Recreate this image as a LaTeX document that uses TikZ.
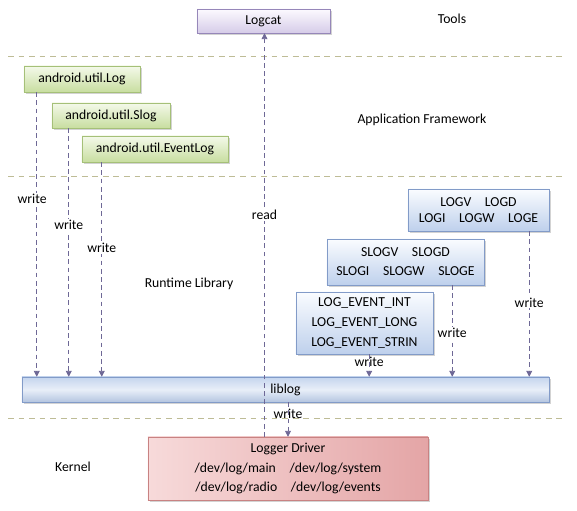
\documentclass[tikz,border=0pt]{standalone}
\usepackage{fontspec}
\setmainfont{Carlito}
\usetikzlibrary{arrows.meta,shadows}

\definecolor{sepline}{RGB}{190,188,150}
\definecolor{arrowc}{RGB}{110,104,150}
\definecolor{greentop}{RGB}{244,249,234}
\definecolor{greenbot}{RGB}{200,222,160}
\definecolor{greenline}{RGB}{165,192,120}
\definecolor{bluetop}{RGB}{250,252,255}
\definecolor{bluebot}{RGB}{190,208,236}
\definecolor{blueline}{RGB}{130,155,200}
\definecolor{purptop}{RGB}{252,250,255}
\definecolor{purpbot}{RGB}{214,204,232}
\definecolor{purpline}{RGB}{150,135,185}
\definecolor{redleft}{RGB}{247,218,218}
\definecolor{redright}{RGB}{228,165,166}
\definecolor{redline}{RGB}{200,130,130}

\tikzset{
  box/.style={rectangle, inner sep=0pt, align=center,
    font=\fontsize{11.7}{13.6}\selectfont,
    drop shadow={opacity=0.35, shadow xshift=1.5pt, shadow yshift=-1.5pt}},
  javabox/.style={box, draw=greenline, top color=greentop, bottom color=greenbot},
  cbox/.style={box, draw=blueline, top color=bluetop, bottom color=bluebot},
  toolbox/.style={box, draw=purpline, top color=purptop, bottom color=purpbot},
  drvbox/.style={box, draw=redline, left color=redleft, right color=redright},
  libbox/.style={box, draw=blueline, top color=bluebot!90!white, bottom color=bluebot!95!black,
    middle color=bluebot!35!white},
  layer/.style={font=\fontsize{11.7}{13.6}\selectfont},
  sep/.style={draw=sepline, dashed, dash pattern=on 5pt off 4pt, line width=0.6pt},
  wr/.style={draw=arrowc, dashed, dash pattern=on 4pt off 3pt, line width=0.7pt,
    -{Triangle[width=5pt,length=5pt]}},
  lbl/.style={font=\fontsize{11.7}{13.6}\selectfont, fill=white, inner sep=1pt}
}

\begin{document}
\begin{tikzpicture}[x=0.03cm, y=-0.03cm]
  \useasboundingbox (0,0) rectangle (577,511);

  \draw[sep] (8,56) -- (562,56);
  \draw[sep] (8,176) -- (562,176);
  \draw[sep] (8,418) -- (562,418);

  \node[layer] (tools) at (452,19) {Tools};
  \node[layer] (appfw) at (422,120) {Application Framework};
  \node[layer] (rtlib) at (189,284) {Runtime Library};
  \node[layer] (kernel) at (73,467) {Kernel};

  \node[toolbox, minimum width=3.99cm, minimum height=0.72cm] (logcat) at (263.5,21) {Logcat};

  \node[javabox, minimum width=3.48cm, minimum height=0.78cm] (jlog) at (82,79) {android.util.Log};
  \node[javabox, minimum width=3.54cm, minimum height=0.75cm] (jslog) at (111,115.5) {android.util.Slog};
  \node[javabox, minimum width=4.38cm, minimum height=0.78cm] (jevlog) at (155,149) {android.util.EventLog};

  \node[cbox, minimum width=4.23cm, minimum height=1.26cm] (clog) at (478.5,210)
    {LOGV\quad LOGD\\LOGI\quad LOGW\quad LOGE};
  \node[cbox, minimum width=4.71cm, minimum height=1.38cm] (cslog) at (405.5,262)
    {SLOGV\quad SLOGD\\[2.6pt]SLOGI\quad SLOGW\quad SLOGE};
  \node[cbox, minimum width=4.11cm, minimum height=1.86cm] (cevlog) at (364.5,323)
    {LOG\_EVENT\_INT\\[3.4pt]LOG\_EVENT\_LONG\\[3.4pt]LOG\_EVENT\_STRIN};

  \node[libbox, minimum width=15.81cm, minimum height=0.75cm] (liblog) at (285.5,389.5) {liblog};

  \node[drvbox, minimum width=8.4cm, minimum height=1.89cm] (driver) at (288,468.5)
    {Logger Driver\\[3.4pt]/dev/log/main\quad /dev/log/system\\[3.4pt]/dev/log/radio\quad /dev/log/events};

  \coordinate (w1) at ([xshift=0.39cm]jlog.south west);
  \coordinate (w2) at ([xshift=0.51cm]jslog.south west);
  \coordinate (w3) at ([xshift=0.6cm]jevlog.south west);
  \coordinate (w4) at ([xshift=0.14cm]cevlog.south);
  \coordinate (w5) at ([xshift=-0.96cm]cslog.south east);
  \coordinate (w6) at ([xshift=-0.6cm]clog.south east);
  \coordinate (w7) at (liblog.south -| driver.north);
  \coordinate (rd) at ([xshift=0.03cm]logcat.south);

  \draw[wr] (w1) -- node[lbl, pos=0.375, xshift=-4] {write} (w1 |- liblog.north);
  \draw[wr] (w2) -- node[lbl, pos=0.39] {write} (w2 |- liblog.north);
  \draw[wr] (w3) -- node[lbl, pos=0.4] {write} (w3 |- liblog.north);
  \draw[wr] (w4) -- node[lbl, pos=0.35, fill=none] {write} (w4 |- liblog.north);
  \draw[wr] (w5) -- node[lbl, pos=0.52] {write} (w5 |- liblog.north);
  \draw[wr] (w6) -- node[lbl, pos=0.49] {write} (w6 |- liblog.north);
  \draw[wr] (rd |- driver.north) -- node[lbl, pos=0.55] {read} (rd);
  \draw[wr] (w7) -- node[lbl, pos=0.34, fill=none] {write} (driver.north);
\end{tikzpicture}
\end{document}
